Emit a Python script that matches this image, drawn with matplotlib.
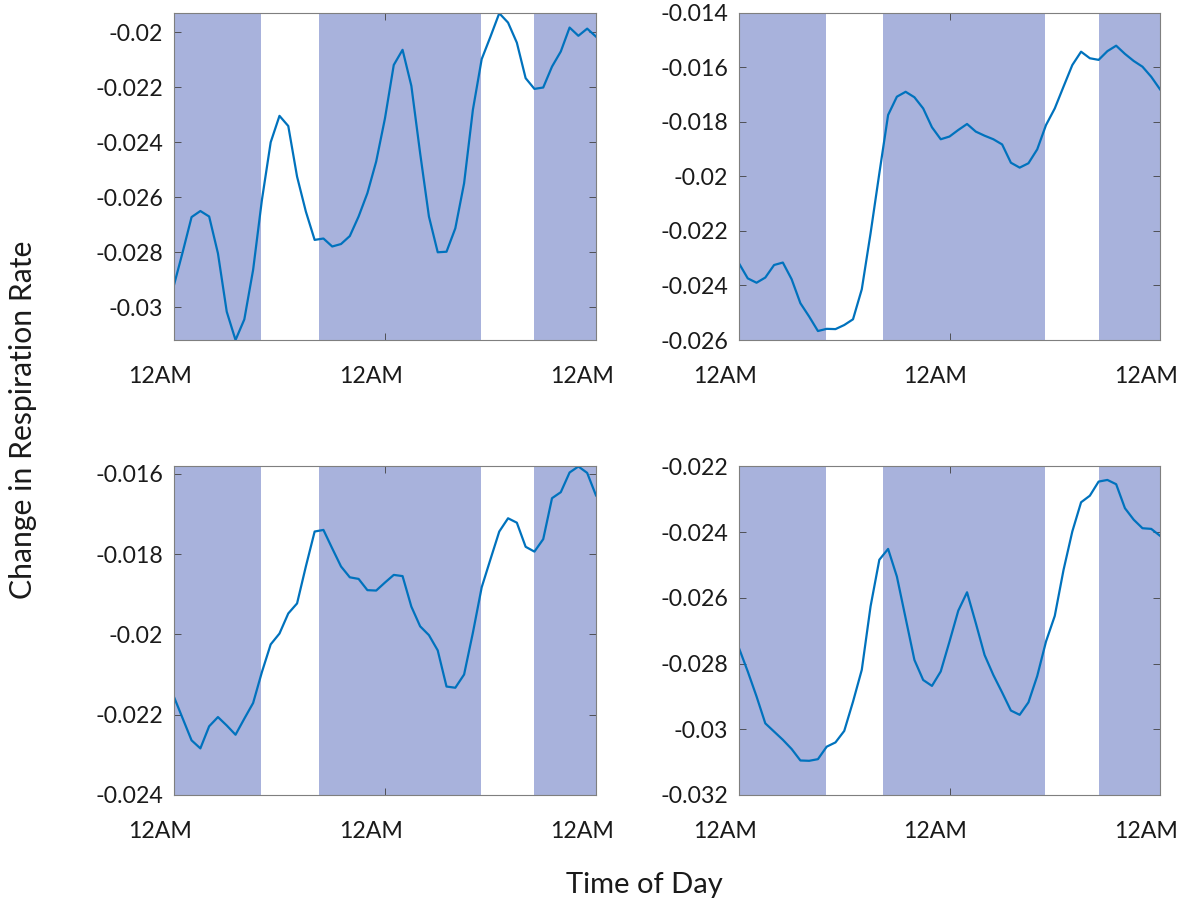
import numpy as np
import matplotlib
matplotlib.use('Agg')
import matplotlib.pyplot as plt
from matplotlib.transforms import ScaledTranslation

# hours since first midnight, one sample per hour
hours = np.arange(0, 49)

# change in respiration rate, one list per panel
panel_tl = [-0.02919, -0.02798, -0.02672, -0.0265, -0.0267, -0.02804, -0.03016, -0.03119,
            -0.03044, -0.02864, -0.0261, -0.024, -0.02304, -0.02341, -0.02525, -0.02652,
            -0.02755, -0.0275, -0.02779, -0.0277, -0.02741, -0.0267, -0.02585, -0.0247,
            -0.02313, -0.02119, -0.02064, -0.02195, -0.0244, -0.0267, -0.028, -0.02798,
            -0.02713, -0.02549, -0.02282, -0.02098, -0.02016, -0.01931, -0.01965, -0.02038,
            -0.02167, -0.02206, -0.02201, -0.02125, -0.0207, -0.01983, -0.02013, -0.01987,
            -0.02016]
panel_tr = [-0.02319, -0.02374, -0.0239, -0.02371, -0.02325, -0.02316, -0.02377, -0.02465,
            -0.02514, -0.02567, -0.02559, -0.0256, -0.02545, -0.02524, -0.02414, -0.02209,
            -0.01989, -0.01775, -0.01708, -0.0169, -0.0171, -0.01751, -0.0182, -0.01864,
            -0.01854, -0.0183, -0.01808, -0.01836, -0.01851, -0.01864, -0.01883, -0.0195,
            -0.01968, -0.01952, -0.01901, -0.01812, -0.01751, -0.01671, -0.01592, -0.01543,
            -0.01567, -0.01573, -0.01541, -0.01521, -0.01551, -0.01577, -0.01598, -0.01635,
            -0.01681]
panel_bl = [-0.02156, -0.0221, -0.02264, -0.02284, -0.02229, -0.02206, -0.02227, -0.0225,
            -0.0221, -0.02171, -0.02094, -0.02025, -0.01998, -0.01948, -0.01923, -0.01831,
            -0.01744, -0.0174, -0.01786, -0.01831, -0.01858, -0.01862, -0.0189, -0.01891,
            -0.01871, -0.01852, -0.01855, -0.01931, -0.0198, -0.02002, -0.0204, -0.0213,
            -0.02133, -0.021, -0.01996, -0.01883, -0.01813, -0.01744, -0.01711, -0.01722,
            -0.01782, -0.01794, -0.01763, -0.01661, -0.01646, -0.01597, -0.01582, -0.01598,
            -0.01654]
panel_br = [-0.02753, -0.02824, -0.029, -0.02982, -0.03007, -0.03032, -0.0306, -0.03095,
            -0.03096, -0.03091, -0.03053, -0.0304, -0.03005, -0.02916, -0.02819, -0.02626,
            -0.02484, -0.02451, -0.02535, -0.02662, -0.02789, -0.0285, -0.02868, -0.02824,
            -0.02733, -0.02639, -0.02583, -0.02677, -0.02774, -0.02835, -0.02888, -0.02943,
            -0.02956, -0.02918, -0.02838, -0.02733, -0.02655, -0.02515, -0.02398, -0.02309,
            -0.02289, -0.02246, -0.02241, -0.02254, -0.02327, -0.02362, -0.02388, -0.0239,
            -0.02411]

# night periods (shaded), in hours
nights = [(0, 9.9), (16.45, 34.9), (41.0, 48)]

y_limits = [(-0.03119, -0.01929), (-0.026, -0.014), (-0.024, -0.01582), (-0.032, -0.022)]
y_ticks = [[-0.03, -0.028, -0.026, -0.024, -0.022, -0.02],
           [-0.026, -0.024, -0.022, -0.02, -0.018, -0.016, -0.014],
           [-0.024, -0.022, -0.02, -0.018, -0.016],
           [-0.032, -0.03, -0.028, -0.026, -0.024, -0.022]]
x_ticks = [0, 24, 48]
x_tick_labels = ['12AM', '12AM', '12AM']

plt.rcParams['font.family'] = ['Lato', 'DejaVu Sans']

fig = plt.figure(figsize=(11.82, 9), dpi=100)

positions = [[0.1472, 0.6222, 0.357, 0.3637],
             [0.6252, 0.6222, 0.3562, 0.3637],
             [0.1472, 0.1167, 0.357, 0.365],
             [0.6252, 0.1167, 0.3562, 0.365]]
panels = [panel_tl, panel_tr, panel_bl, panel_br]

for pos, data, ylim, yt in zip(positions, panels, y_limits, y_ticks):
    ax = fig.add_axes(pos)
    for start, end in nights:
        ax.axvspan(start, end, color='#a8b2dc', lw=0, zorder=0)
    ax.plot(hours, data, color='#0072bd', lw=1.6, zorder=2)
    ax.set_xlim(0, 48)
    ax.set_ylim(*ylim)
    ax.set_xticks(x_ticks)
    ax.set_xticklabels(x_tick_labels)
    ax.set_yticks(yt)
    ax.set_yticklabels(['%g' % v for v in yt])
    ax.tick_params(direction='in', length=5, width=0.6, color='#404040',
                   top=True, right=True, labelsize=16.7, labelcolor='#1a1a1a')
    ax.tick_params(axis='x', pad=19)
    ax.tick_params(axis='y', pad=8)
    for sp in ax.spines.values():
        sp.set_color('#7f7f7f')
        sp.set_linewidth(0.8)
    # MATLAB-ish offset of the time labels
    shift = ScaledTranslation(-0.14, 0, fig.dpi_scale_trans)
    for lab in ax.get_xticklabels():
        lab.set_transform(lab.get_transform() + shift)

fig.text(0.0195, 0.533, 'Change in Respiration Rate', rotation=90,
         ha='center', va='center', fontsize=21.7, color='#1a1a1a')
fig.text(0.545, 0.017, 'Time of Day', ha='center', va='center',
         fontsize=21, color='#1a1a1a')

fig.savefig('out.png', dpi=100)
